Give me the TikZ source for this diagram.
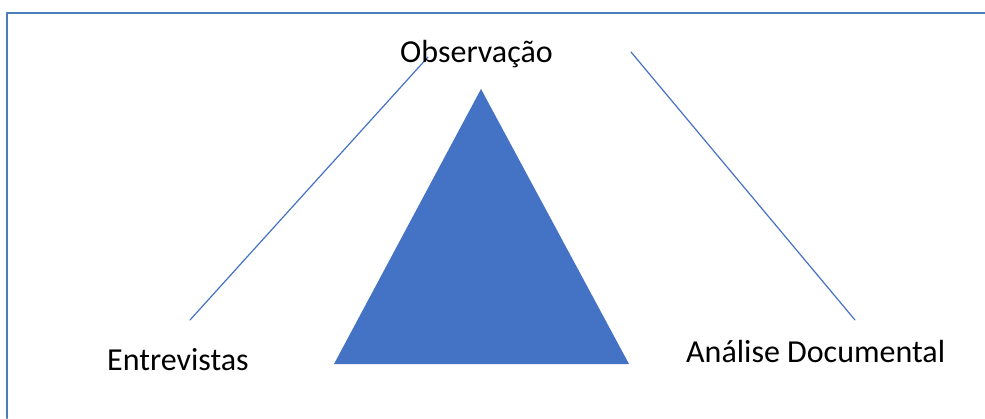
\documentclass[tikz,border=0pt]{standalone}
\usepackage{fontspec}
\setmainfont{Carlito}
\definecolor{frameblue}{HTML}{4A7EBB}
\definecolor{triblue}{HTML}{4472C4}
\begin{document}
\begin{tikzpicture}[x=1pt, y=-1pt, line join=round, line cap=round,
	label/.style={inner sep=0pt, font=\fontsize{32}{38}\selectfont}]
	\useasboundingbox (0,0) rectangle (985,418);
	% Moldura
	\draw[frameblue, line width=2.4pt] (7,418) -- (7,13) -- (985,13);
	% Triângulo central
	\coordinate (T) at (481,89);
	\coordinate (L) at (334,364);
	\coordinate (R) at (629,364);
	\fill[triblue] (T) -- (L) -- (R) -- cycle;
	% Extremidades das linhas
	\coordinate (E1) at (190,320);
	\coordinate (O1) at (428,57);
	\coordinate (O2) at (631,52);
	\coordinate (A1) at (855,320);
	\draw[triblue, line width=1.2pt] (E1) -- (O1);
	\draw[triblue, line width=1.2pt] (O2) -- (A1);
	% Rótulos
	\node[label, anchor=base west] (obs) at (400,62) {Observação};
	\node[label, anchor=base west] (ent) at (107,370) {Entrevistas};
	\node[label, anchor=base west] (ana) at (686,362) {Análise Documental};
\end{tikzpicture}
\end{document}
